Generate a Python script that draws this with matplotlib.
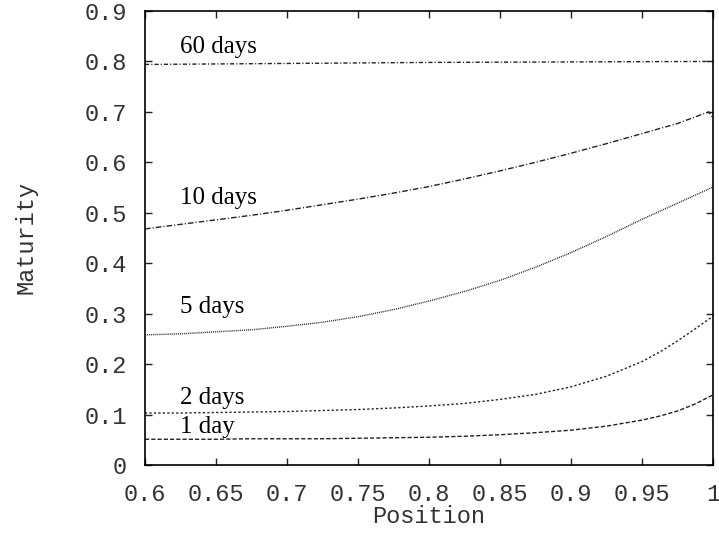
import matplotlib
matplotlib.use("Agg")
import matplotlib.pyplot as plt

# Data
pos = [0.6, 0.625, 0.65, 0.675, 0.7, 0.725, 0.75, 0.775, 0.8, 0.825,
       0.85, 0.875, 0.9, 0.925, 0.95, 0.9625, 0.975, 0.9875, 1.0]
day1 = [0.051, 0.051, 0.051, 0.052, 0.052, 0.052, 0.053, 0.054, 0.055, 0.057,
        0.060, 0.064, 0.069, 0.077, 0.089, 0.097, 0.107, 0.121, 0.139]
day2 = [0.103, 0.103, 0.104, 0.105, 0.106, 0.108, 0.110, 0.113, 0.117, 0.122,
        0.130, 0.140, 0.155, 0.176, 0.205, 0.224, 0.246, 0.270, 0.295]
day5 = [0.258, 0.260, 0.264, 0.268, 0.275, 0.283, 0.294, 0.308, 0.325, 0.344,
        0.366, 0.392, 0.421, 0.453, 0.487, 0.503, 0.519, 0.535, 0.551]
pos10 = [0.6, 0.625, 0.65, 0.675, 0.7, 0.725, 0.75, 0.775, 0.8, 0.825,
         0.85, 0.875, 0.9, 0.925, 0.95, 0.975, 0.997, 1.0]
day10 = [0.468, 0.477, 0.486, 0.495, 0.505, 0.516, 0.527, 0.539, 0.552, 0.567,
         0.583, 0.600, 0.618, 0.637, 0.657, 0.677, 0.700, 0.688]
pos60 = [0.6, 0.7, 0.8, 0.9, 1.0]
day60 = [0.794, 0.796, 0.798, 0.799, 0.800]

series = [
    (pos, day1, "1 day", (0, (3, 1.5)), 0.6246, 0.075),
    (pos, day2, "2 days", (0, (1.6, 1.6)), 0.6246, 0.133),
    (pos, day5, "5 days", (0, (0.7, 0.7)), 0.6246, 0.313),
    (pos10, day10, "10 days", (0, (4, 1.5, 0.8, 1.5)), 0.6246, 0.529),
    (pos60, day60, "60 days", (0, (3, 1.5, 0.8, 1.5)), 0.6246, 0.829),
]

xticks = [0.6, 0.65, 0.7, 0.75, 0.8, 0.85, 0.9, 0.95, 1.0]
xticklabels = ["0.6", "0.65", "0.7", "0.75", "0.8", "0.85", "0.9", "0.95", "1"]
yticks = [0, 0.1, 0.2, 0.3, 0.4, 0.5, 0.6, 0.7, 0.8, 0.9]
yticklabels = ["0", "0.1", "0.2", "0.3", "0.4", "0.5", "0.6", "0.7", "0.8", "0.9"]

fig = plt.figure(figsize=(7.19, 5.33), dpi=100)
ax = fig.add_axes([0.2017, 0.1276, 0.79, 0.8518])

mono = "Liberation Mono"
serif = "Liberation Serif"

for xs, vals, label, ls, tx, ty in series:
    ax.plot(xs, vals, color="#222222", linewidth=1.0, linestyle=ls)
    ax.text(tx, ty, label, fontsize=18, family=serif, va="center", ha="left")

ax.set_xlim(0.6, 1.0)
ax.set_ylim(0, 0.9)
ax.set_xticks(xticks)
ax.set_xticklabels(xticklabels)
ax.set_yticks(yticks)
ax.set_yticklabels(yticklabels)

ax.tick_params(direction="in", length=5, width=1, top=True, right=True,
               labelsize=17, colors="#222222")
ax.tick_params(axis="x", pad=13)
ax.tick_params(axis="y", pad=13)
for lab in ax.get_xticklabels() + ax.get_yticklabels():
    lab.set_family(mono)
    lab.set_color("#333333")

for sp in ax.spines.values():
    sp.set_linewidth(1.2)

ax.set_xlabel("Position", family=mono, fontsize=17, labelpad=-1, color="#333333")
ax.set_ylabel("Maturity", family=mono, fontsize=17, labelpad=34, color="#333333")

fig.savefig("out.png", dpi=100)
